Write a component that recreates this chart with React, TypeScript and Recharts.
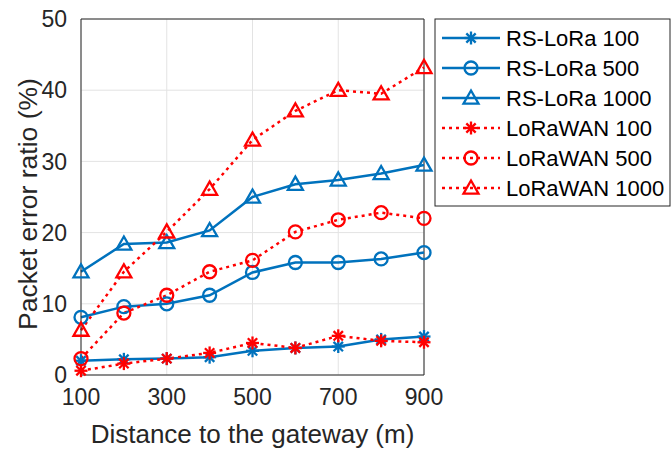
import React from 'react';
import { LineChart, Line, XAxis, YAxis, CartesianGrid, ReferenceLine, Label } from 'recharts';

const distances = [100, 200, 300, 400, 500, 600, 700, 800, 900];
const rsLora100 = [2.0, 2.2, 2.3, 2.5, 3.4, 3.8, 4.0, 5.0, 5.4];
const rsLora500 = [8.1, 9.6, 10.0, 11.2, 14.4, 15.8, 15.8, 16.3, 17.2];
const rsLora1000 = [14.5, 18.4, 18.6, 20.3, 25.0, 26.8, 27.4, 28.3, 29.5];
const loraWan100 = [0.6, 1.6, 2.3, 3.1, 4.5, 3.8, 5.5, 4.8, 4.6];
const loraWan500 = [2.3, 8.7, 11.2, 14.5, 16.1, 20.1, 21.8, 22.8, 22.0];
const loraWan1000 = [6.3, 14.5, 20.1, 26.1, 33.0, 37.1, 40.0, 39.5, 43.2];
const xTicks = [100, 300, 500, 700, 900];
const yTicks = [0, 10, 20, 30, 40, 50];

const BLUE = '#0072BD';
const RED = '#FF0000';
const TEXT = '#262626';
const FONT = '"Liberation Sans", Arial, sans-serif';

type Shape = 'star' | 'circle' | 'triangle';

const series: { key: string; name: string; values: number[]; color: string; shape: Shape; dotted: boolean }[] = [
  { key: 'rs100', name: 'RS-LoRa 100', values: rsLora100, color: BLUE, shape: 'star', dotted: false },
  { key: 'rs500', name: 'RS-LoRa 500', values: rsLora500, color: BLUE, shape: 'circle', dotted: false },
  { key: 'rs1000', name: 'RS-LoRa 1000', values: rsLora1000, color: BLUE, shape: 'triangle', dotted: false },
  { key: 'lw100', name: 'LoRaWAN 100', values: loraWan100, color: RED, shape: 'star', dotted: true },
  { key: 'lw500', name: 'LoRaWAN 500', values: loraWan500, color: RED, shape: 'circle', dotted: true },
  { key: 'lw1000', name: 'LoRaWAN 1000', values: loraWan1000, color: RED, shape: 'triangle', dotted: true },
];

const data = distances.map((d, i) => {
  const row: Record<string, number> = { d };
  series.forEach((s) => { row[s.key] = s.values[i]; });
  return row;
});

function Marker({ cx, cy, shape, color }: { cx: number; cy: number; shape: Shape; color: string }) {
  const sw = 2.3;
  if (shape === 'circle') {
    return <circle cx={cx} cy={cy} r={6.5} fill="none" stroke={color} strokeWidth={sw} />;
  }
  if (shape === 'triangle') {
    const h = 7.5;
    return (
      <polygon
        points={`${cx},${cy - h} ${cx - h},${cy + h * 0.75} ${cx + h},${cy + h * 0.75}`}
        fill="none" stroke={color} strokeWidth={sw} strokeLinejoin="miter"
      />
    );
  }
  const r = 6.5;
  const d = r * 0.72;
  return (
    <g stroke={color} strokeWidth={sw}>
      <line x1={cx} y1={cy - r} x2={cx} y2={cy + r} />
      <line x1={cx - r} y1={cy} x2={cx + r} y2={cy} />
      <line x1={cx - d} y1={cy - d} x2={cx + d} y2={cy + d} />
      <line x1={cx - d} y1={cy + d} x2={cx + d} y2={cy - d} />
    </g>
  );
}

const makeDot = (shape: Shape, color: string) => (props: any) => {
  const { cx, cy, index } = props;
  if (cx == null || cy == null) return <g key={index} />;
  return <Marker key={index} cx={cx} cy={cy} shape={shape} color={color} />;
};

function LegendBox() {
  const rowH = 30;
  return (
    <svg
      width={237}
      height={189}
      style={{ position: 'absolute', left: 434, top: 18 }}
    >
      <rect x={1} y={1} width={235} height={187} fill="#fff" stroke={TEXT} strokeWidth={1} />
      {series.map((s, i) => {
        const y = 20 + i * rowH;
        return (
          <g key={s.key}>
            <line
              x1={8} y1={y} x2={66} y2={y}
              stroke={s.color} strokeWidth={2.5}
              strokeDasharray={s.dotted ? '3 4' : undefined}
            />
            <Marker cx={37} cy={y} shape={s.shape} color={s.color} />
            <text x={72} y={y + 8} fontSize={22} fill="#000" fontFamily={FONT}>{s.name}</text>
          </g>
        );
      })}
    </svg>
  );
}

const YLabel = () => (
  <text
    x={28}
    y={204}
    transform="rotate(-90 28 204)"
    textAnchor="middle"
    dominantBaseline="central"
    fontSize={26.5}
    fontFamily={FONT}
    fill={TEXT}
  >
    Packet error ratio (%)
  </text>
);

export default function App() {
  return (
    <div style={{ position: 'absolute', left: 0, top: 0, width: 672, height: 450, background: '#fff' }}>
      <LineChart
        width={672}
        height={450}
        data={data}
        margin={{ top: 19, right: 248, bottom: 0, left: 0 }}
      >
        <CartesianGrid stroke="#e3e3e3" strokeWidth={1} />
        <XAxis
          dataKey="d"
          type="number"
          domain={[100, 900]}
          ticks={xTicks}
          tickLine={false}
          axisLine={{ stroke: TEXT, strokeWidth: 1 }}
          tick={{ fill: TEXT, fontSize: 23, fontFamily: FONT }}
          tickMargin={8}
          height={75}
        >
          <Label
            value="Distance to the gateway (m)"
            position="insideBottom"
            offset={7}
            style={{ fill: TEXT, fontSize: 26, fontFamily: FONT }}
          />
        </XAxis>
        <YAxis
          type="number"
          domain={[0, 50]}
          ticks={yTicks}
          tickLine={false}
          axisLine={{ stroke: TEXT, strokeWidth: 1 }}
          tick={{ fill: TEXT, fontSize: 23, fontFamily: FONT }}
          tickMargin={8}
          width={81}
        >
          <Label content={YLabel} />
        </YAxis>
        <ReferenceLine y={50} stroke={TEXT} strokeWidth={1} />
        <ReferenceLine x={900} stroke={TEXT} strokeWidth={1} />
        {series.map((s) => (
          <Line
            key={s.key}
            dataKey={s.key}
            name={s.name}
            stroke={s.color}
            strokeWidth={2.5}
            strokeDasharray={s.dotted ? '3 4' : undefined}
            dot={makeDot(s.shape, s.color)}
            activeDot={false}
            isAnimationActive={false}
            type="linear"
          />
        ))}
      </LineChart>
      <LegendBox />
    </div>
  );
}
